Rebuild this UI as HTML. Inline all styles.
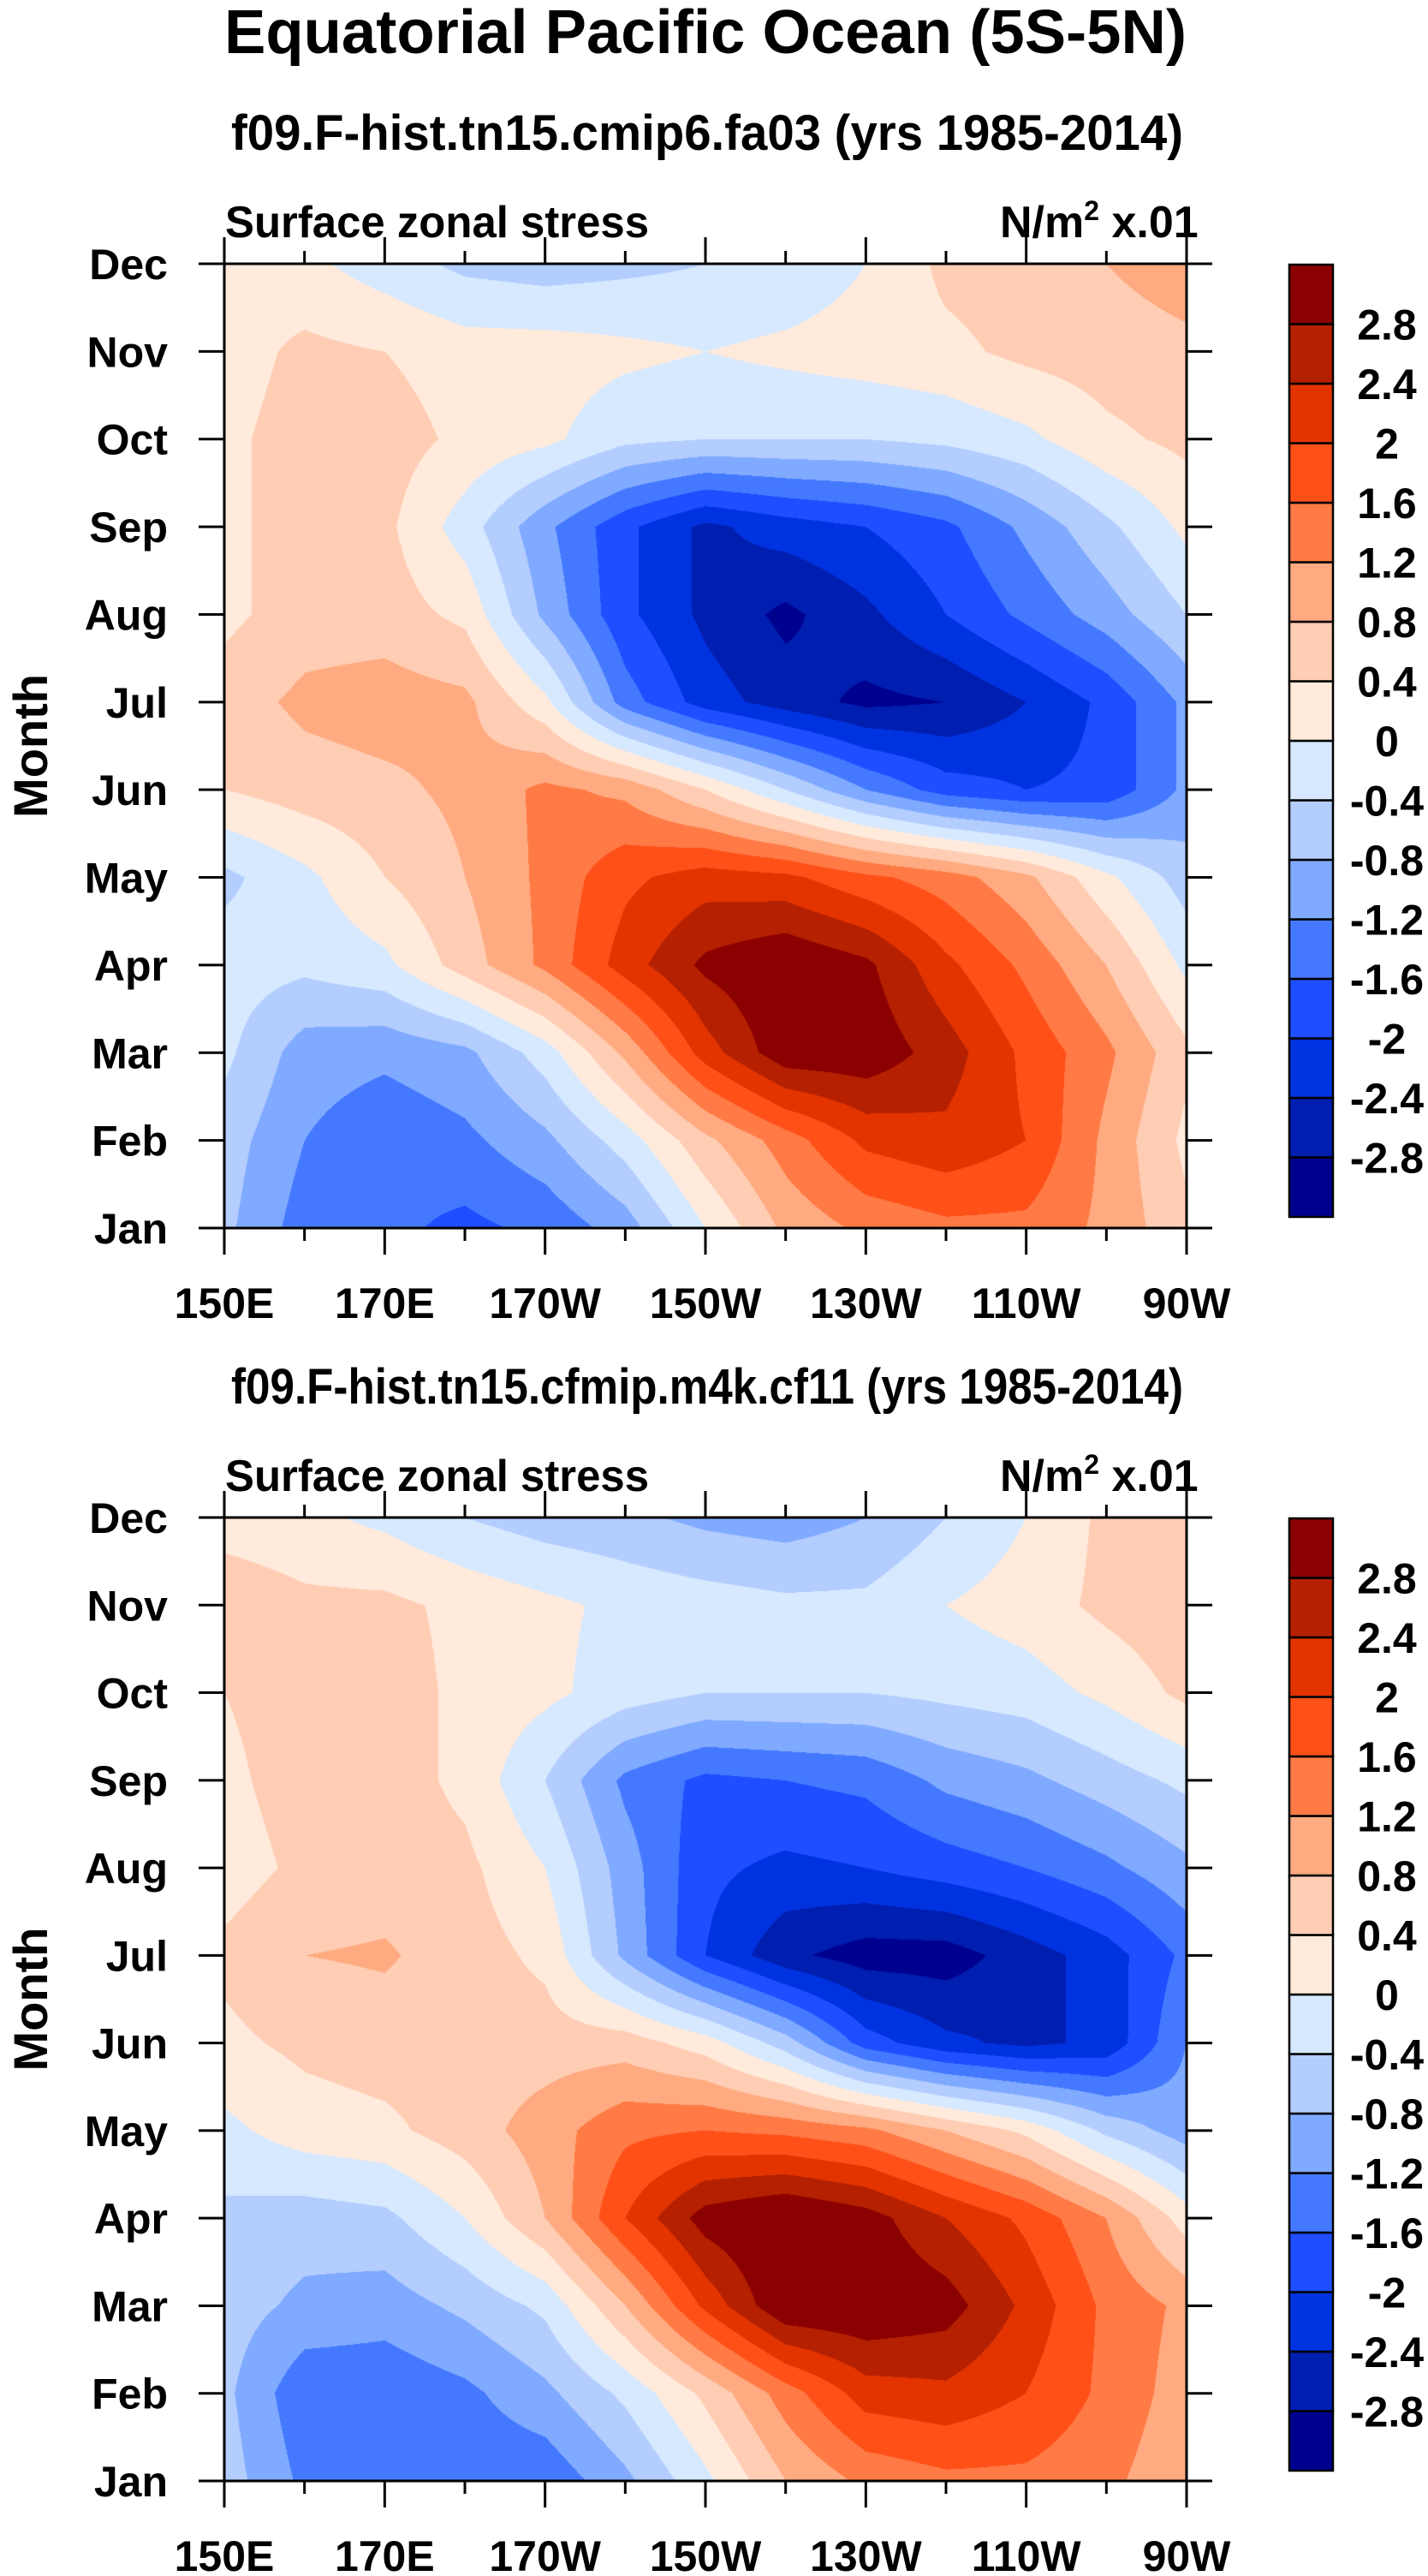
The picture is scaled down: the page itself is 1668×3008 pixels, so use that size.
<!DOCTYPE html>
<html><head><meta charset="utf-8"><style>
html,body{margin:0;padding:0;background:#fff;}
body{width:1668px;height:3008px;position:relative;overflow:hidden;font-family:"Liberation Sans",Arial,sans-serif;}
canvas{position:absolute;}
svg{position:absolute;left:0;top:0;}
</style></head><body>
<canvas id="c1"></canvas>
<canvas id="c2"></canvas>
<svg id="ov" width="1668" height="3008"></svg>
<script>
const lonLabels = ["150E","170E","170W","150W","130W","110W","90W"];
const lonGrid = [150,160,170,180,190,200,210,220,230,240,250,260,270];
const monthLabels = ["Jan","Feb","Mar","Apr","May","Jun","Jul","Aug","Sep","Oct","Nov","Dec"];
const levels = [-2.8,-2.4,-2,-1.6,-1.2,-0.8,-0.4,0,0.4,0.8,1.2,1.6,2,2.4,2.8];
const levelColors = ["#00008f","#001eb0","#0033e0","#1e4eff","#4479ff","#80aaff","#b3cdff","#d6e9ff",
  "#ffeadb","#ffcdb3","#ffaa80","#ff7a45","#ff5018","#e33400","#b52000","#8b0000"];
// rows Jan..Dec, columns 150E..90W every 10 deg
const fa03Values = [
 [-0.7,-1.4,-1.5,-1.7,-1.5,-1.0, 0.0, 0.9, 1.3, 1.5, 1.5, 1.1, 0.5],
 [-0.6,-1.2,-1.5,-1.3,-0.9,-0.2, 0.7, 1.4, 2.1, 2.3, 2.0, 1.1, 0.3],
 [-0.3,-1.0,-1.1,-0.9,-0.2, 0.9, 2.2, 3.1, 3.1, 2.6, 1.9, 1.3, 0.5],
 [-0.2,-0.3,-0.1, 0.6, 1.3, 2.2, 2.9, 3.2, 2.9, 2.1, 1.5, 0.8,-0.1],
 [-0.5,-0.1, 0.4, 0.8, 1.3, 1.9, 2.2, 2.1, 1.7, 1.4, 0.9, 0.1,-0.6],
 [ 0.4, 0.6, 0.7, 0.9, 1.3, 1.1, 0.4,-0.4,-1.2,-1.8,-2.0,-1.9,-1.1],
 [ 0.6, 0.9, 1.0, 0.9, 0.1,-1.4,-2.2,-2.6,-2.9,-2.8,-2.4,-1.9,-1.1],
 [ 0.3, 0.6, 0.6, 0.3,-0.9,-1.9,-2.5,-2.9,-2.5,-2.0,-1.5,-1.0,-0.4],
 [ 0.3, 0.6, 0.5,-0.2,-1.1,-1.9,-2.5,-2.2,-2.0,-1.7,-1.1,-0.5, 0.1],
 [ 0.3, 0.6, 0.6, 0.3, 0.1,-0.3,-0.4,-0.4,-0.4,-0.3,-0.1, 0.3, 0.5],
 [ 0.2, 0.5, 0.4, 0.2, 0.2, 0.1, 0.0, 0.1, 0.2, 0.3, 0.5, 0.6, 0.7],
 [ 0.3, 0.1,-0.2,-0.5,-0.6,-0.5,-0.4,-0.3, 0.0, 0.5, 0.6, 0.8, 1.0]
];
const cf11Values = [
 [-0.6,-1.3,-1.5,-1.5,-1.5,-0.9,-0.1, 0.8, 1.3, 1.5, 1.5, 1.3, 0.9],
 [-0.7,-1.5,-1.5,-1.3,-0.9,-0.3, 0.5, 1.4, 2.2, 2.3, 2.0, 1.5, 1.0],
 [-0.6,-0.9,-1.0,-0.7,-0.3, 0.8, 2.1, 3.2, 3.2, 3.0, 2.3, 1.5, 1.1],
 [-0.5,-0.6,-0.5, 0.0, 0.8, 2.0, 3.0, 3.3, 3.0, 2.4, 1.9, 1.2, 0.2],
 [-0.1, 0.2, 0.3, 0.6, 1.0, 1.5, 1.6, 1.5, 1.3, 0.8, 0.3,-0.5,-1.0],
 [ 0.3, 0.5, 0.6, 0.6, 0.6, 0.6, 0.2,-0.6,-1.8,-2.3,-2.5,-2.3,-1.2],
 [ 0.5, 0.8, 0.85,0.6, 0.3,-0.9,-2.0,-2.7,-3.0,-3.0,-2.6,-2.2,-1.5],
 [ 0.2, 0.5, 0.6, 0.5, 0.0,-1.0,-1.9,-2.1,-2.0,-1.8,-1.6,-1.3,-0.9],
 [ 0.3, 0.6, 0.6, 0.3,-0.4,-1.3,-1.7,-1.6,-1.5,-1.1,-0.9,-0.6,-0.3],
 [ 0.4, 0.6, 0.6, 0.3, 0.1,-0.2,-0.4,-0.4,-0.4,-0.3,-0.2, 0.1, 0.5],
 [ 0.7, 0.5, 0.5, 0.3, 0.1,-0.1,-0.2,-0.3,-0.3, 0.0, 0.2, 0.5, 0.7],
 [ 0.2, 0.1,-0.1,-0.4,-0.6,-0.7,-0.9,-1.0,-0.8,-0.4, 0.0, 0.5, 0.6]
];
const panelTitles = ["f09.F-hist.tn15.cmip6.fa03 (yrs 1985-2014)","f09.F-hist.tn15.cfmip.m4k.cf11 (yrs 1985-2014)"];

const X0=262, X1=1386;
const panels=[{y0:308,y1:1434,cb0:309,cb1:1421,data:fa03Values,cv:'c1',key:'fa03'},
              {y0:1772,y1:2897,cb0:1773,cb1:2885,data:cf11Values,cv:'c2',key:'cf11'}];
const lonMin=150, lonMax=270;
function xScale(lon){return X0+(lon-lonMin)/(lonMax-lonMin)*(X1-X0);}
function yScale(p,m){return p.y1-(m/11)*(p.y1-p.y0);}
function hexToRgb(h){return [parseInt(h.substr(1,2),16),parseInt(h.substr(3,2),16),parseInt(h.substr(5,2),16)];}
const rgbCols=levelColors.map(hexToRgb);
function colorIndex(v){let i=0;while(i<levels.length&&v>=levels[i])i++;return i;}

const NS="http://www.w3.org/2000/svg";
const ov=document.getElementById('ov');
function el(tag,attrs,parent){const e=document.createElementNS(NS,tag);for(const k in attrs)e.setAttribute(k,attrs[k]);(parent||ov).appendChild(e);return e;}
function txt(s,attrs,name){const t=el('text',Object.assign({'font-family':'"Liberation Sans",Arial,sans-serif','font-weight':'bold',fill:'#000'},attrs));t.textContent=s;


return t;}

txt("Equatorial Pacific Ocean (5S-5N)",{x:262,y:62,'font-size':72,textLength:1124,lengthAdjust:'spacingAndGlyphs'},'main-title');

panels.forEach((p,pi)=>{
  const cv=document.getElementById(p.cv);
  const W=X1-X0, H=p.y1-p.y0;
  cv.width=W; cv.height=H; cv.style.left=X0+'px'; cv.style.top=p.y0+'px';
  const ctx=cv.getContext('2d'); const img=ctx.createImageData(W,H);
  const d=p.data, nr=d.length, nc=d[0].length;
  for(let py=0;py<H;py++){
    const fy=(H-1-py)/(H-1)*(nr-1); let r0=Math.min(Math.floor(fy),nr-2); const ty=fy-r0;
    for(let px=0;px<W;px++){
      const fx=px/(W-1)*(nc-1); let c0=Math.min(Math.floor(fx),nc-2); const tx=fx-c0;
      const v=(d[r0][c0]*(1-tx)+d[r0][c0+1]*tx)*(1-ty)+(d[r0+1][c0]*(1-tx)+d[r0+1][c0+1]*tx)*ty;
      const c=rgbCols[colorIndex(v)]; const o=(py*W+px)*4;
      img.data[o]=c[0];img.data[o+1]=c[1];img.data[o+2]=c[2];img.data[o+3]=255;
    }
  }
  ctx.putImageData(img,0,0);

  txt(panelTitles[pi],{x:270,y:p.y0-133,'font-size':58,textLength:1112,lengthAdjust:'spacingAndGlyphs'},'panel-title-'+p.key);
  txt("Surface zonal stress",{x:263,y:p.y0-31,'font-size':52,textLength:495,lengthAdjust:'spacingAndGlyphs'},'left-subtitle-'+p.key);
  const u=txt("N/m",{x:1168,y:p.y0-31,'font-size':52},'units-label-'+p.key);
  const sup=el('tspan',{dy:-20,'font-size':32},u); sup.textContent="2";
  const rest=el('tspan',{dy:20},u); rest.textContent=" x.01";

  const fr=el('rect',{x:X0,y:p.y0,width:X1-X0,height:p.y1-p.y0,fill:'none',stroke:'#000','stroke-width':3});
  
  
  for(let lon=150;lon<=270;lon+=10){
    const x=xScale(lon); const major=(lon-150)%20===0; const L=major?31:15;
    const t1=el('line',{x1:x,x2:x,y1:p.y0,y2:p.y0-L,stroke:'#000','stroke-width':3});
     
    const t2=el('line',{x1:x,x2:x,y1:p.y1,y2:p.y1+L,stroke:'#000','stroke-width':3});
     
  }
  lonLabels.forEach((s,i)=>{
    txt(s,{x:xScale(150+i*20),y:p.y1+105,'font-size':50,'text-anchor':'middle'},'x-tick-label');
  });
  monthLabels.forEach((s,i)=>{
    const y=yScale(p,i);
    const a=el('line',{x1:X0-30,x2:X0,y1:y,y2:y,stroke:'#000','stroke-width':3});
     
    const b=el('line',{x1:X1,x2:X1+30,y1:y,y2:y,stroke:'#000','stroke-width':3});
     
    txt(s,{x:196,y:y+18,'font-size':50,'text-anchor':'end'},'y-tick-label');
  });
  txt("Month",{x:0,y:0,'font-size':56,'text-anchor':'middle',transform:`translate(55,${(p.y0+p.y1)/2}) rotate(-90)`},'y-axis-title-'+p.key);

  const n=levelColors.length, bh=(p.cb1-p.cb0)/n;
  levelColors.forEach((c,i)=>{
    const y=p.cb1-(i+1)*bh;
    const r=el('rect',{x:1506,y:y,width:51,height:bh,fill:c,stroke:'#000','stroke-width':2.5});
    
    
  });
  levels.forEach((v,i)=>{
    const y=p.cb1-(i+1)*bh;
    txt(String(v),{x:1620,y:y+18,'font-size':50,'text-anchor':'middle'},'colorbar-label');
  });
});
</script>
</body></html>
